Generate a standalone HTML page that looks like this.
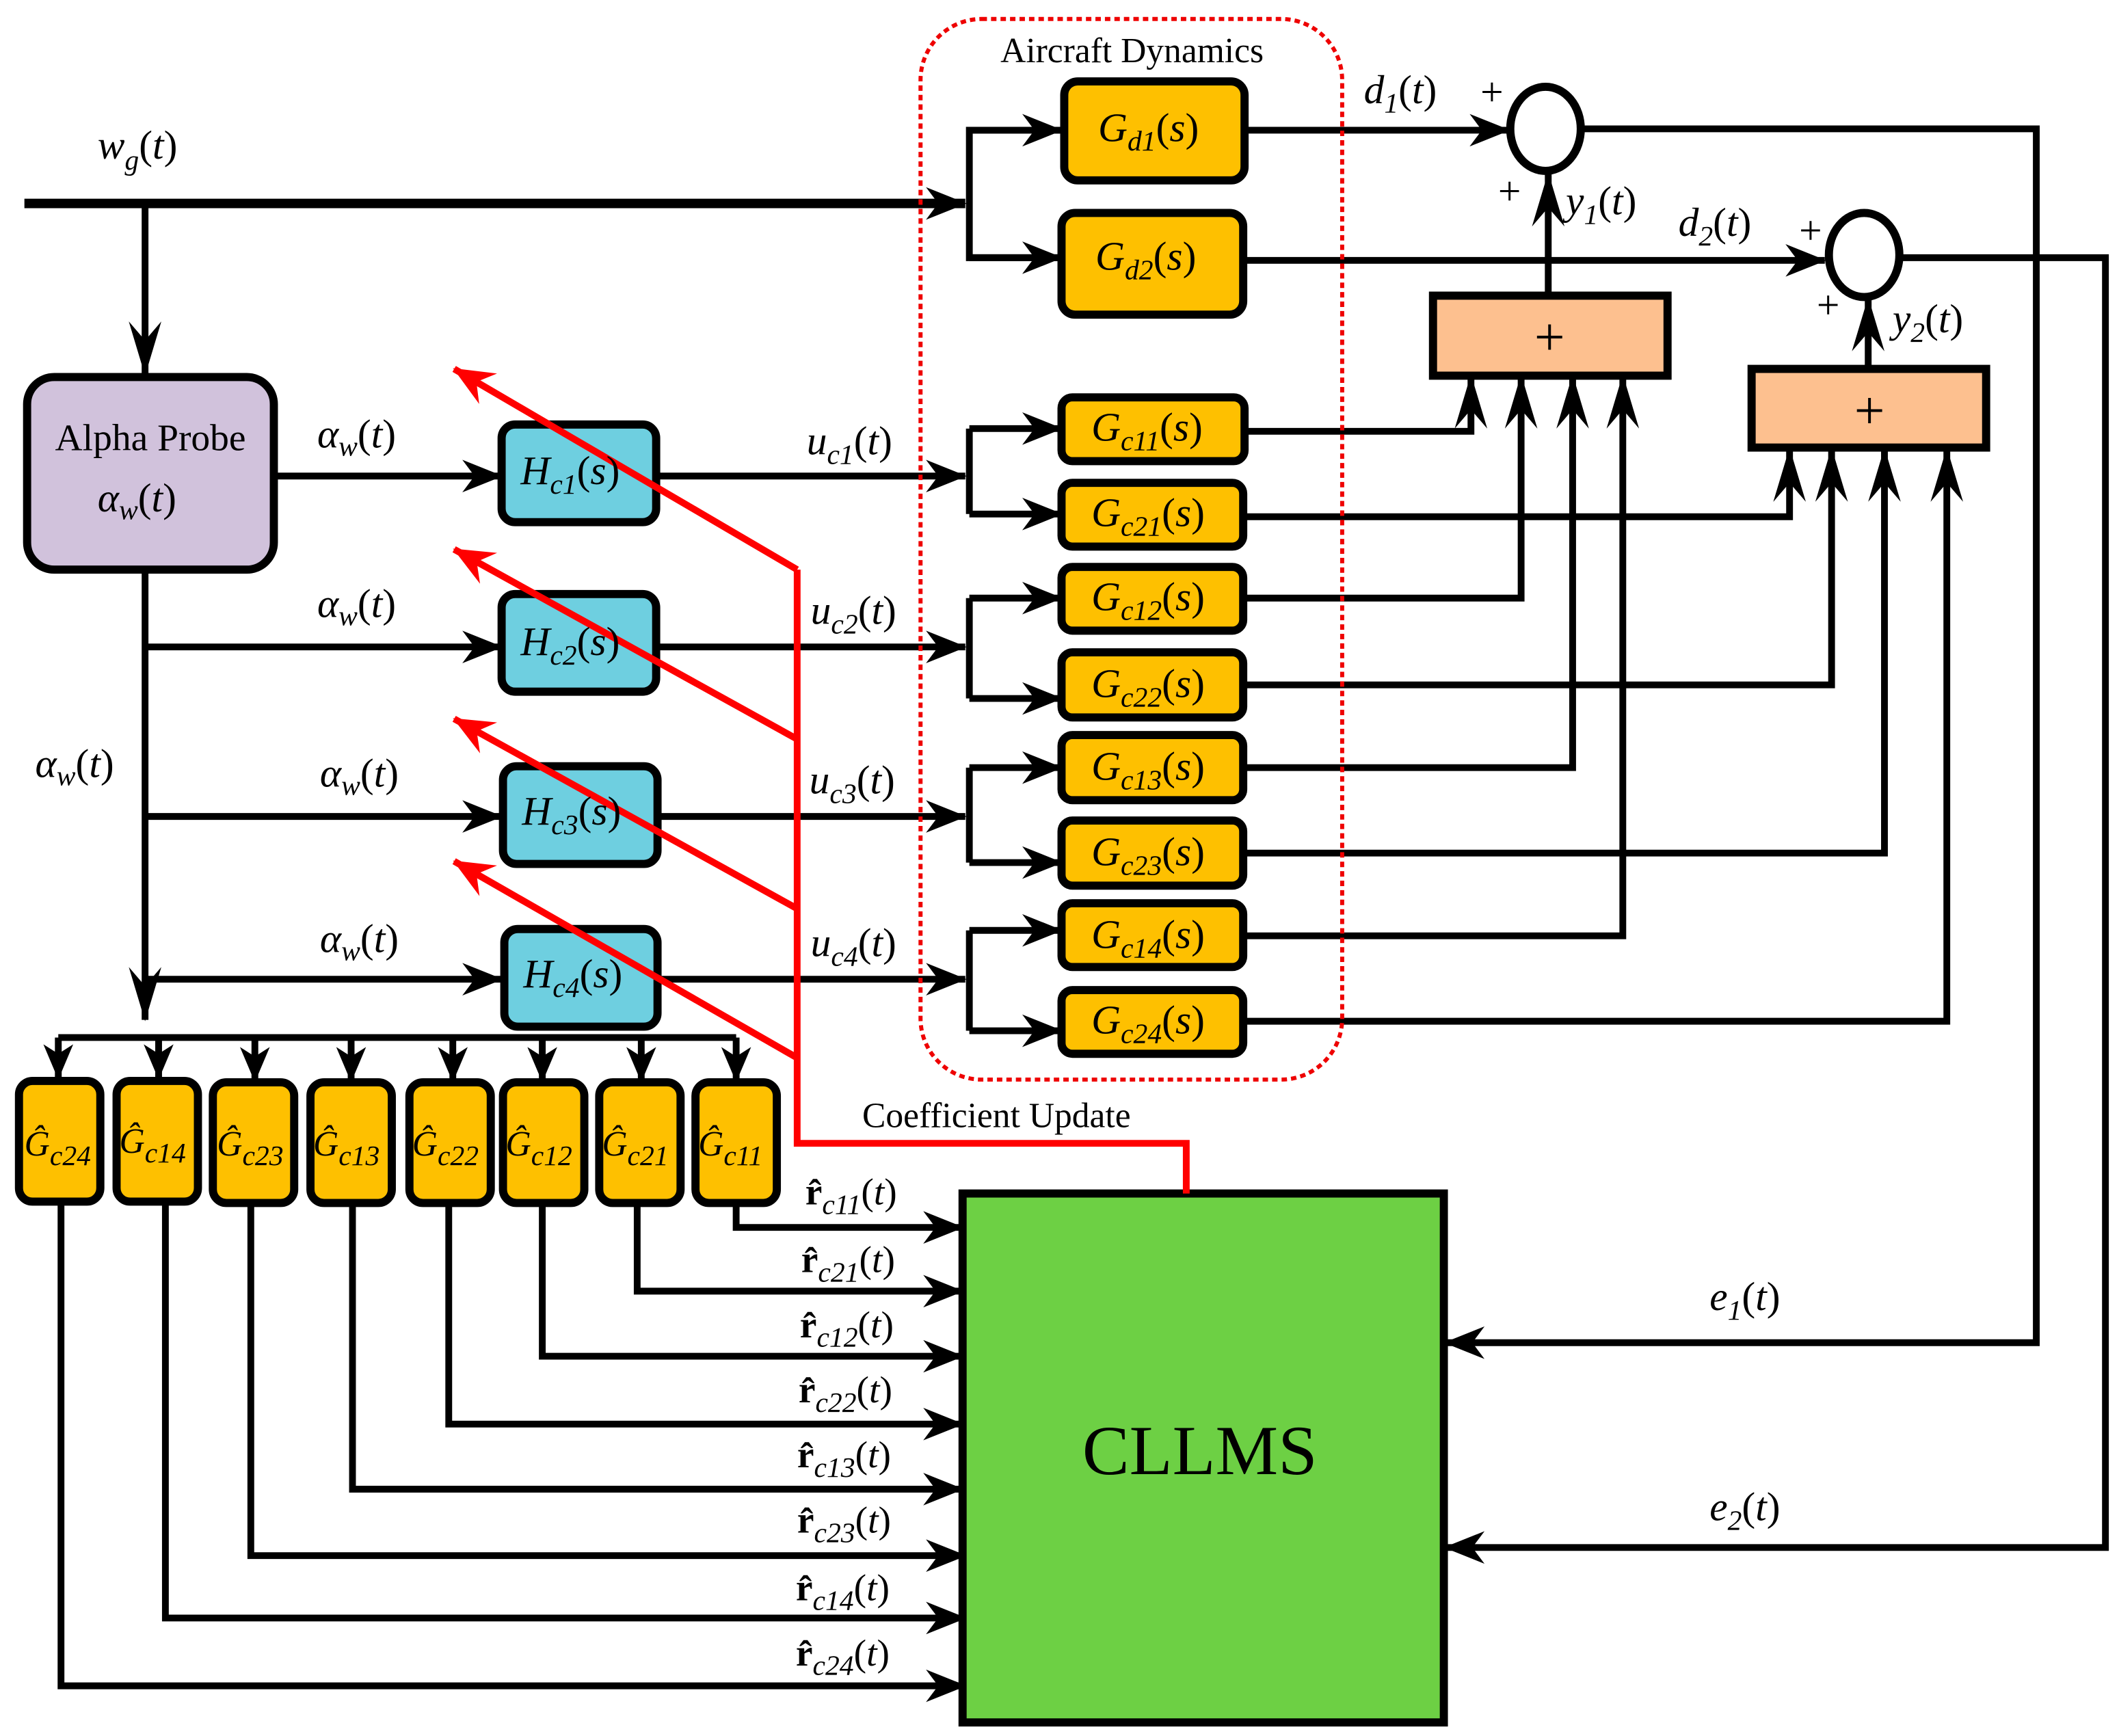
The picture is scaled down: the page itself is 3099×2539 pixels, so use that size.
<!DOCTYPE html>
<html><head><meta charset="utf-8"><style>
html,body{margin:0;padding:0;background:#fff;}
svg{display:block;}
text{font-family:"Liberation Serif","Times New Roman",serif;fill:#000;}
.m{font-style:italic;font-size:30px;}
.s{font-size:21px;}
</style></head><body>
<svg width="3099" height="2539" viewBox="0 0 1563 1280" preserveAspectRatio="none" xmlns="http://www.w3.org/2000/svg" font-family="Liberation Serif, serif">
<defs>
<marker id="a" markerUnits="userSpaceOnUse" viewBox="0 0 30 24" refX="29" refY="12" markerWidth="30" markerHeight="24" orient="auto"><path d="M0,0 L30,12 L0,24 L9,12 Z" fill="#000"/></marker>
<marker id="u" markerUnits="userSpaceOnUse" viewBox="0 0 40 24" refX="39" refY="12" markerWidth="40" markerHeight="24" orient="auto"><path d="M0,0 L40,12 L0,24 L14,12 Z" fill="#000"/></marker>
<marker id="v" markerUnits="userSpaceOnUse" viewBox="0 0 26 22" refX="25" refY="11" markerWidth="26" markerHeight="22" orient="auto"><path d="M0,0 L26,11 L0,22 L7,11 Z" fill="#000"/></marker>
<marker id="r" markerUnits="userSpaceOnUse" viewBox="0 0 30 26" refX="29" refY="13" markerWidth="30" markerHeight="26" orient="auto"><path d="M0,0 L30,13 L0,26 L10,13 Z" fill="#f00"/></marker>
</defs>
<g stroke="#000" stroke-width="5" fill="none" stroke-linejoin="miter">
<line x1="18" y1="150" x2="712" y2="150" stroke-width="7" marker-end="url(#a)"/>
<line x1="107" y1="150" x2="107" y2="276" marker-end="url(#u)"/>
<polyline points="783,96 715,96 715,190 783,190"/>
<line x1="715" y1="96" x2="783" y2="96" marker-end="url(#a)"/>
<line x1="715" y1="190" x2="783" y2="190" marker-end="url(#a)"/>
<line x1="202" y1="351" x2="370" y2="351" marker-end="url(#a)"/>
<line x1="107" y1="420" x2="107" y2="752" marker-end="url(#u)"/>
<line x1="107" y1="477" x2="370" y2="477" marker-end="url(#a)"/>
<line x1="107" y1="602" x2="370" y2="602" marker-end="url(#a)"/>
<line x1="107" y1="722" x2="370" y2="722" marker-end="url(#a)"/>
<line x1="484" y1="351" x2="712" y2="351" marker-end="url(#a)"/>
<line x1="484" y1="477" x2="712" y2="477" marker-end="url(#a)"/>
<line x1="484" y1="602" x2="712" y2="602" marker-end="url(#a)"/>
<line x1="484" y1="722" x2="712" y2="722" marker-end="url(#a)"/>
<polyline points="715,316 715,379"/><line x1="715" y1="316" x2="783" y2="316" marker-end="url(#a)"/><line x1="715" y1="379" x2="783" y2="379" marker-end="url(#a)"/>
<polyline points="715,441 715,515"/><line x1="715" y1="441" x2="783" y2="441" marker-end="url(#a)"/><line x1="715" y1="515" x2="783" y2="515" marker-end="url(#a)"/>
<polyline points="715,566 715,636"/><line x1="715" y1="566" x2="783" y2="566" marker-end="url(#a)"/><line x1="715" y1="636" x2="783" y2="636" marker-end="url(#a)"/>
<polyline points="715,686 715,760"/><line x1="715" y1="686" x2="783" y2="686" marker-end="url(#a)"/><line x1="715" y1="760" x2="783" y2="760" marker-end="url(#a)"/>
<line x1="918" y1="96" x2="1113" y2="96" marker-end="url(#a)"/>
<line x1="918" y1="192" x2="1346" y2="192" marker-end="url(#a)"/>
<line x1="1142" y1="218" x2="1142" y2="128" marker-end="url(#u)"/>
<line x1="1378" y1="272" x2="1378" y2="220" marker-end="url(#u)"/>
<polyline points="918,318 1085,318 1085,277" marker-end="url(#u)"/>
<polyline points="918,441 1122,441 1122,277" marker-end="url(#u)"/>
<polyline points="918,566 1160,566 1160,277" marker-end="url(#u)"/>
<polyline points="918,690 1197,690 1197,277" marker-end="url(#u)"/>
<polyline points="918,381 1320,381 1320,331" marker-end="url(#u)"/>
<polyline points="918,505 1351,505 1351,331" marker-end="url(#u)"/>
<polyline points="918,629 1390,629 1390,331" marker-end="url(#u)"/>
<polyline points="918,753 1436,753 1436,331" marker-end="url(#u)"/>
<polyline points="1167,95 1502,95 1502,990 1066,990" marker-end="url(#a)"/>
<polyline points="1403,190 1553,190 1553,1141 1066,1141" marker-end="url(#a)"/>
<line x1="43" y1="765" x2="543" y2="765"/>
<line x1="43" y1="765" x2="43" y2="795" marker-end="url(#v)"/>
<line x1="117" y1="765" x2="117" y2="795" marker-end="url(#v)"/>
<line x1="188" y1="765" x2="188" y2="797" marker-end="url(#v)"/>
<line x1="259" y1="765" x2="259" y2="797" marker-end="url(#v)"/>
<line x1="334" y1="765" x2="334" y2="797" marker-end="url(#v)"/>
<line x1="400" y1="765" x2="400" y2="797" marker-end="url(#v)"/>
<line x1="473" y1="765" x2="473" y2="797" marker-end="url(#v)"/>
<line x1="543" y1="765" x2="543" y2="797" marker-end="url(#v)"/>
<polyline points="543,887 543,905 710,905" marker-end="url(#a)"/>
<polyline points="470,887 470,952 710,952" marker-end="url(#a)"/>
<polyline points="400,887 400,1000 710,1000" marker-end="url(#a)"/>
<polyline points="331,887 331,1050 710,1050" marker-end="url(#a)"/>
<polyline points="260,887 260,1098 710,1098" marker-end="url(#a)"/>
<polyline points="185,887 185,1147 712,1147" marker-end="url(#a)"/>
<polyline points="122,887 122,1193 712,1193" marker-end="url(#a)"/>
<polyline points="45,887 45,1243 712,1243" marker-end="url(#a)"/>
</g>
<rect x="679" y="14" width="311" height="782" rx="45" fill="none" stroke="#e00" stroke-width="3" stroke-dasharray="4,3"/>
<g stroke="#000" stroke-width="6">
<rect x="20" y="278" width="182" height="142" rx="20" fill="#d1c2dc"/>
<rect x="370" y="313" width="114" height="72" rx="10" fill="#6ecfe0"/>
<rect x="370" y="438" width="114" height="72" rx="10" fill="#6ecfe0"/>
<rect x="371" y="565" width="114" height="72" rx="10" fill="#6ecfe0"/>
<rect x="372" y="685" width="113" height="72" rx="10" fill="#6ecfe0"/>
<g fill="#fec000">
<rect x="785" y="60" width="133" height="73" rx="10"/>
<rect x="783" y="157" width="134" height="75" rx="10"/>
<rect x="783" y="293" width="135" height="47" rx="8"/>
<rect x="783" y="356" width="134" height="47" rx="8"/>
<rect x="783" y="418" width="134" height="47" rx="8"/>
<rect x="783" y="481" width="134" height="48" rx="8"/>
<rect x="783" y="542" width="134" height="48" rx="8"/>
<rect x="783" y="605" width="134" height="48" rx="8"/>
<rect x="783" y="666" width="134" height="47" rx="8"/>
<rect x="783" y="730" width="134" height="47" rx="8"/>
<rect x="14" y="797" width="60" height="89" rx="10"/>
<rect x="86" y="797" width="60" height="89" rx="10"/>
<rect x="157" y="798" width="60" height="89" rx="10"/>
<rect x="229" y="798" width="60" height="89" rx="10"/>
<rect x="302" y="798" width="60" height="89" rx="10"/>
<rect x="371" y="798" width="60" height="89" rx="10"/>
<rect x="442" y="798" width="60" height="89" rx="10"/>
<rect x="513" y="798" width="60" height="89" rx="10"/>
</g>
<rect x="1057" y="218" width="173" height="59" fill="#fdc08f"/>
<rect x="1292" y="272" width="173" height="58" fill="#fdc08f"/>
<ellipse cx="1140" cy="95" rx="26" ry="31" fill="#fff"/>
<ellipse cx="1375" cy="188" rx="26" ry="31" fill="#fff"/>
<rect x="710" y="880" width="355" height="390" fill="#6dd044"/>
</g>
<g stroke="#f00" stroke-width="5" fill="none">
<polyline points="875,880 875,843 588,843 588,420"/>
<line x1="588" y1="420" x2="335" y2="272" marker-end="url(#r)"/>
<line x1="588" y1="545" x2="335" y2="405" marker-end="url(#r)"/>
<line x1="588" y1="670" x2="335" y2="530" marker-end="url(#r)"/>
<line x1="588" y1="780" x2="335" y2="635" marker-end="url(#r)"/>
</g>
<text x="835" y="46" text-anchor="middle" font-size="26">Aircraft Dynamics</text>
<text x="735" y="831" text-anchor="middle" font-size="26">Coefficient Update</text>
<text x="885" y="1087" text-anchor="middle" font-size="52">CLLMS</text>
<text x="111" y="332" text-anchor="middle" font-size="28">Alpha Probe</text>
<text x="72" y="377" class="m">α<tspan class="s" dy="6">w</tspan><tspan dy="-6" font-style="normal">(</tspan>t<tspan font-style="normal">)</tspan></text>
<text x="72" y="117" class="m">w<tspan class="s" dy="8">g</tspan><tspan dy="-8" font-style="normal">(</tspan>t<tspan font-style="normal">)</tspan></text>
<g class="m">
<text x="234" y="330">α<tspan class="s" dy="6">w</tspan><tspan dy="-6" font-style="normal">(</tspan>t<tspan font-style="normal">)</tspan></text>
<text x="234" y="455">α<tspan class="s" dy="6">w</tspan><tspan dy="-6" font-style="normal">(</tspan>t<tspan font-style="normal">)</tspan></text>
<text x="236" y="580">α<tspan class="s" dy="6">w</tspan><tspan dy="-6" font-style="normal">(</tspan>t<tspan font-style="normal">)</tspan></text>
<text x="236" y="702">α<tspan class="s" dy="6">w</tspan><tspan dy="-6" font-style="normal">(</tspan>t<tspan font-style="normal">)</tspan></text>
<text x="26" y="573">α<tspan class="s" dy="6">w</tspan><tspan dy="-6" font-style="normal">(</tspan>t<tspan font-style="normal">)</tspan></text>
<text x="595" y="335">u<tspan class="s" dy="7">c1</tspan><tspan dy="-7" font-style="normal">(</tspan>t<tspan font-style="normal">)</tspan></text>
<text x="598" y="460">u<tspan class="s" dy="7">c2</tspan><tspan dy="-7" font-style="normal">(</tspan>t<tspan font-style="normal">)</tspan></text>
<text x="597" y="585">u<tspan class="s" dy="7">c3</tspan><tspan dy="-7" font-style="normal">(</tspan>t<tspan font-style="normal">)</tspan></text>
<text x="598" y="705">u<tspan class="s" dy="7">c4</tspan><tspan dy="-7" font-style="normal">(</tspan>t<tspan font-style="normal">)</tspan></text>
<text x="384" y="357">H<tspan class="s" dy="7">c1</tspan><tspan dy="-7" font-style="normal">(</tspan>s<tspan font-style="normal">)</tspan></text>
<text x="384" y="483">H<tspan class="s" dy="7">c2</tspan><tspan dy="-7" font-style="normal">(</tspan>s<tspan font-style="normal">)</tspan></text>
<text x="385" y="608">H<tspan class="s" dy="7">c3</tspan><tspan dy="-7" font-style="normal">(</tspan>s<tspan font-style="normal">)</tspan></text>
<text x="386" y="728">H<tspan class="s" dy="7">c4</tspan><tspan dy="-7" font-style="normal">(</tspan>s<tspan font-style="normal">)</tspan></text>
<text x="810" y="104">G<tspan class="s" dy="7">d1</tspan><tspan dy="-7" font-style="normal">(</tspan>s<tspan font-style="normal">)</tspan></text>
<text x="808" y="199">G<tspan class="s" dy="7">d2</tspan><tspan dy="-7" font-style="normal">(</tspan>s<tspan font-style="normal">)</tspan></text>
<text x="805" y="325">G<tspan class="s" dy="7">c11</tspan><tspan dy="-7" font-style="normal">(</tspan>s<tspan font-style="normal">)</tspan></text>
<text x="805" y="388">G<tspan class="s" dy="7">c21</tspan><tspan dy="-7" font-style="normal">(</tspan>s<tspan font-style="normal">)</tspan></text>
<text x="805" y="450">G<tspan class="s" dy="7">c12</tspan><tspan dy="-7" font-style="normal">(</tspan>s<tspan font-style="normal">)</tspan></text>
<text x="805" y="514">G<tspan class="s" dy="7">c22</tspan><tspan dy="-7" font-style="normal">(</tspan>s<tspan font-style="normal">)</tspan></text>
<text x="805" y="575">G<tspan class="s" dy="7">c13</tspan><tspan dy="-7" font-style="normal">(</tspan>s<tspan font-style="normal">)</tspan></text>
<text x="805" y="638">G<tspan class="s" dy="7">c23</tspan><tspan dy="-7" font-style="normal">(</tspan>s<tspan font-style="normal">)</tspan></text>
<text x="805" y="699">G<tspan class="s" dy="7">c14</tspan><tspan dy="-7" font-style="normal">(</tspan>s<tspan font-style="normal">)</tspan></text>
<text x="805" y="762">G<tspan class="s" dy="7">c24</tspan><tspan dy="-7" font-style="normal">(</tspan>s<tspan font-style="normal">)</tspan></text>
<text x="1006" y="76">d<tspan class="s" dy="7">1</tspan><tspan dy="-7" font-style="normal">(</tspan>t<tspan font-style="normal">)</tspan></text>
<text x="1238" y="174">d<tspan class="s" dy="7">2</tspan><tspan dy="-7" font-style="normal">(</tspan>t<tspan font-style="normal">)</tspan></text>
<text x="1155" y="158">y<tspan class="s" dy="7">1</tspan><tspan dy="-7" font-style="normal">(</tspan>t<tspan font-style="normal">)</tspan></text>
<text x="1396" y="245">y<tspan class="s" dy="7">2</tspan><tspan dy="-7" font-style="normal">(</tspan>t<tspan font-style="normal">)</tspan></text>
<text x="1261" y="966">e<tspan class="s" dy="7">1</tspan><tspan dy="-7" font-style="normal">(</tspan>t<tspan font-style="normal">)</tspan></text>
<text x="1261" y="1121">e<tspan class="s" dy="7">2</tspan><tspan dy="-7" font-style="normal">(</tspan>t<tspan font-style="normal">)</tspan></text>
</g>
<g font-size="30">
<text x="1092" y="78">+</text><text x="1105" y="151">+</text>
<text x="1327" y="180">+</text><text x="1340" y="235">+</text>
</g>
<text x="1143" y="262" text-anchor="middle" font-size="40">+</text>
<text x="1379" y="316" text-anchor="middle" font-size="40">+</text>
<g font-size="26" font-style="italic">
<text x="18" y="852">Ĝ<tspan class="s" dy="7">c24</tspan></text>
<text x="88" y="850">Ĝ<tspan class="s" dy="7">c14</tspan></text>
<text x="160" y="852">Ĝ<tspan class="s" dy="7">c23</tspan></text>
<text x="231" y="852">Ĝ<tspan class="s" dy="7">c13</tspan></text>
<text x="304" y="852">Ĝ<tspan class="s" dy="7">c22</tspan></text>
<text x="373" y="852">Ĝ<tspan class="s" dy="7">c12</tspan></text>
<text x="444" y="852">Ĝ<tspan class="s" dy="7">c21</tspan></text>
<text x="515" y="852">Ĝ<tspan class="s" dy="7">c11</tspan></text>
</g>
<g font-size="28">
<text x="594" y="888"><tspan font-weight="bold">r̂</tspan><tspan class="s" font-style="italic" dy="7">c11</tspan><tspan dy="-7">(</tspan><tspan font-style="italic">t</tspan>)</text>
<text x="591" y="938"><tspan font-weight="bold">r̂</tspan><tspan class="s" font-style="italic" dy="7">c21</tspan><tspan dy="-7">(</tspan><tspan font-style="italic">t</tspan>)</text>
<text x="590" y="986"><tspan font-weight="bold">r̂</tspan><tspan class="s" font-style="italic" dy="7">c12</tspan><tspan dy="-7">(</tspan><tspan font-style="italic">t</tspan>)</text>
<text x="589" y="1034"><tspan font-weight="bold">r̂</tspan><tspan class="s" font-style="italic" dy="7">c22</tspan><tspan dy="-7">(</tspan><tspan font-style="italic">t</tspan>)</text>
<text x="588" y="1082"><tspan font-weight="bold">r̂</tspan><tspan class="s" font-style="italic" dy="7">c13</tspan><tspan dy="-7">(</tspan><tspan font-style="italic">t</tspan>)</text>
<text x="588" y="1130"><tspan font-weight="bold">r̂</tspan><tspan class="s" font-style="italic" dy="7">c23</tspan><tspan dy="-7">(</tspan><tspan font-style="italic">t</tspan>)</text>
<text x="587" y="1180"><tspan font-weight="bold">r̂</tspan><tspan class="s" font-style="italic" dy="7">c14</tspan><tspan dy="-7">(</tspan><tspan font-style="italic">t</tspan>)</text>
<text x="587" y="1228"><tspan font-weight="bold">r̂</tspan><tspan class="s" font-style="italic" dy="7">c24</tspan><tspan dy="-7">(</tspan><tspan font-style="italic">t</tspan>)</text>
</g>
</svg>
</body></html>
